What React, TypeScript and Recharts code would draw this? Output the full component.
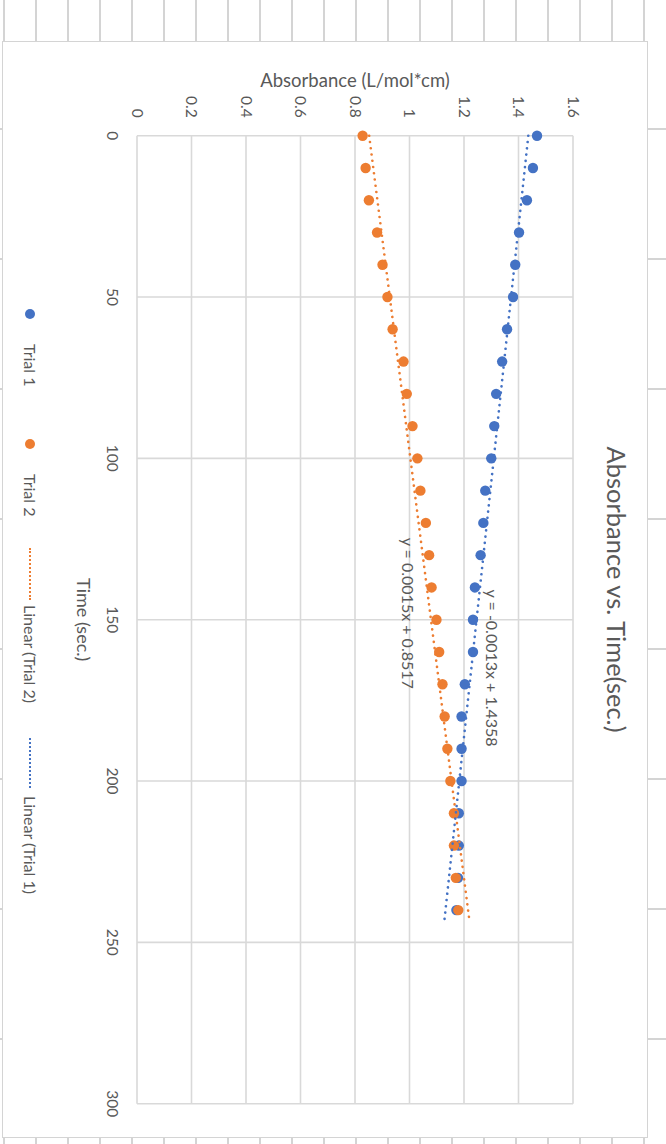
import React from 'react';
import { ScatterChart, Scatter, XAxis, YAxis, CartesianGrid, ReferenceDot } from 'recharts';

const times = [0, 10, 20, 30, 40, 50, 60, 70, 80, 90, 100, 110, 120, 130, 140, 150, 160, 170, 180, 190, 200, 210, 220, 230, 240];
const trial1 = [1.468, 1.453, 1.431, 1.402, 1.388, 1.380, 1.358, 1.340, 1.318, 1.311, 1.300, 1.278, 1.271, 1.261, 1.240, 1.233, 1.233, 1.203, 1.191, 1.191, 1.191, 1.181, 1.181, 1.178, 1.172];
const trial2 = [0.828, 0.839, 0.851, 0.881, 0.901, 0.919, 0.938, 0.978, 0.990, 1.011, 1.029, 1.040, 1.060, 1.072, 1.081, 1.099, 1.109, 1.121, 1.129, 1.139, 1.150, 1.163, 1.163, 1.170, 1.179];

const trendTimes = [0, 244];
const trend1Values = [1.436, 1.127];
const trend2Values = [0.852, 1.221];

const timeTicks = [0, 50, 100, 150, 200, 250, 300];
const absTicks = [0, 0.2, 0.4, 0.6, 0.8, 1, 1.2, 1.4, 1.6];

const title = 'Absorbance vs. Time(sec.)';
const xTitle = 'Time (sec.)';
const yTitle = 'Absorbance (L/mol*cm)';
const eq1 = 'y = -0.0013x + 1.4358';
const eq2 = 'y = 0.0015x + 0.8517';
const eq1Pos = { t: 165, a: 1.303 };
const eq2Pos = { t: 148, a: 0.993 };

const BLUE = '#4472C4';
const ORANGE = '#ED7D31';
const TEXT = '#595959';
const GRID = '#D9D9D9';
const FONT = 'Lato, "Open Sans", sans-serif';

const series1 = times.map((t, i) => ({ t, a: trial1[i] }));
const series2 = times.map((t, i) => ({ t, a: trial2[i] }));
const trend1 = trendTimes.map((t, i) => ({ t, a: trend1Values[i] }));
const trend2 = trendTimes.map((t, i) => ({ t, a: trend2Values[i] }));

const W = 1097;
const H = 646;

const dot = (color: string) => (p: any) => <circle cx={p.cx} cy={p.cy} r={5.2} fill={color} />;
const noShape = () => <g />;

const dotted = { strokeWidth: 2.6, strokeDasharray: '0.1 6.2', strokeLinecap: 'round' as const };

function LegendHtml() {
  const txt: React.CSSProperties = { position: 'absolute', top: 0, fontSize: 16, color: TEXT, whiteSpace: 'nowrap', lineHeight: '20px' };
  const lineStyle = (color: string, left: number, width: number): React.CSSProperties => ({
    position: 'absolute', left, top: 9, width, height: 0, borderTop: `2.6px dotted ${color}`,
  });
  return (
    <div style={{ position: 'absolute', left: 0, top: 608, width: W, height: 20, fontFamily: FONT }}>
      <div style={{ position: 'absolute', left: 268, top: 5, width: 10.4, height: 10.4, borderRadius: '50%', background: BLUE }} />
      <div style={{ ...txt, left: 303 }}>Trial 1</div>
      <div style={{ position: 'absolute', left: 398, top: 5, width: 10.4, height: 10.4, borderRadius: '50%', background: ORANGE }} />
      <div style={{ ...txt, left: 433 }}>Trial 2</div>
      <div style={lineStyle(ORANGE, 507, 52)} />
      <div style={{ ...txt, left: 564 }}>Linear (Trial 2)</div>
      <div style={lineStyle(BLUE, 697, 50)} />
      <div style={{ ...txt, left: 755 }}>Linear (Trial 1)</div>
    </div>
  );
}

function SheetBackground() {
  const cols = Array.from({ length: 21 }, (_, k) => 3 + 32 * k);
  const rows = Array.from({ length: 8 }, (_, k) => 128 + 130 * k);
  return (
    <>
      {cols.map((x) => (
        <div key={'c' + x} style={{ position: 'absolute', left: x, top: 0, width: 1.5, height: 1144, background: '#D4D4D4' }} />
      ))}
      {rows.map((y) => (
        <div key={'r' + y} style={{ position: 'absolute', left: 0, top: y, width: 666, height: 1.5, background: '#D4D4D4' }} />
      ))}
    </>
  );
}

export default function App() {
  return (
    <div style={{ position: 'absolute', left: 0, top: 0, width: 666, height: 1144, overflow: 'hidden', background: '#fff' }}>
      <SheetBackground />
      <div style={{ position: 'absolute', left: 2, top: 41, width: 646, height: 1097, background: '#fff', border: '1.5px solid #D4D4D4', boxSizing: 'border-box' }}>
        <div style={{ position: 'absolute', left: -1.5, top: -1.5, width: W, height: H, transform: `translate(${H}px, 0px) rotate(90deg)`, transformOrigin: '0 0', fontFamily: FONT }}>
          <div style={{ position: 'absolute', left: 0, top: 16, width: W, textAlign: 'center', fontSize: 25.5, lineHeight: '30px', color: TEXT, fontFamily: FONT }}>{title}</div>
          <div style={{ position: 'absolute', left: 0, top: 0 }}>
            <ScatterChart width={W} height={H} margin={{ top: 75, right: 34.3, bottom: 56, left: 0 }}>
              <CartesianGrid stroke={GRID} strokeWidth={1.6} />
              <XAxis
                type="number"
                dataKey="t"
                domain={[0, 300]}
                ticks={timeTicks}
                interval={0}
                height={79}
                axisLine={false}
                tickLine={false}
                tickSize={0}
                tickMargin={19}
                tick={{ fill: TEXT, fontSize: 15.5, fontFamily: FONT }}
                label={{ value: xTitle, position: 'insideBottom', offset: 19, fill: TEXT, fontSize: 18, fontFamily: FONT }}
              />
              <YAxis
                type="number"
                dataKey="a"
                domain={[0, 1.6]}
                ticks={absTicks}
                interval={0}
                width={94.7}
                axisLine={false}
                tickLine={false}
                tickSize={0}
                tickMargin={18}
                tick={{ fill: TEXT, fontSize: 15.5, fontFamily: FONT }}
                label={{ value: yTitle, angle: -90, position: 'insideLeft', offset: 39, fill: TEXT, fontSize: 18.5, fontFamily: FONT, style: { textAnchor: 'middle' } }}
              />
              <Scatter name="Trial 1" data={series1} fill={BLUE} shape={dot(BLUE)} isAnimationActive={false} />
              <Scatter name="Trial 2" data={series2} fill={ORANGE} shape={dot(ORANGE)} isAnimationActive={false} />
              <Scatter name="Linear (Trial 2)" data={trend2} shape={noShape} line={{ stroke: ORANGE, ...dotted }} isAnimationActive={false} />
              <Scatter name="Linear (Trial 1)" data={trend1} shape={noShape} line={{ stroke: BLUE, ...dotted }} isAnimationActive={false} />
              <ReferenceDot x={eq1Pos.t} y={eq1Pos.a} r={0} fill="none" stroke="none" label={{ value: eq1, position: 'center', fill: TEXT, fontSize: 16, fontFamily: FONT }} />
              <ReferenceDot x={eq2Pos.t} y={eq2Pos.a} r={0} fill="none" stroke="none" label={{ value: eq2, position: 'center', fill: TEXT, fontSize: 16, fontFamily: FONT }} />
            </ScatterChart>
          </div>
          <LegendHtml />
        </div>
      </div>
    </div>
  );
}
